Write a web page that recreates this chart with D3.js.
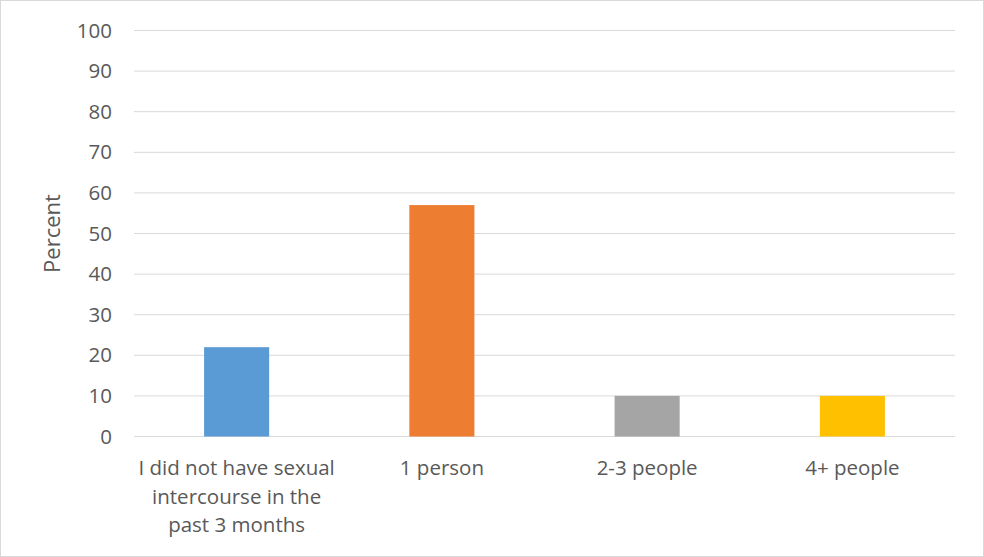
<!DOCTYPE html>
<html>
<head>
<meta charset="utf-8">
<script src="https://cdn.jsdelivr.net/npm/d3@7"></script>
<style>
  html, body { margin: 0; padding: 0; background: #fff; }
  svg { display: block; }
  text { font-family: "Open Sans", sans-serif; fill: #595959; }
</style>
</head>
<body>
<svg id="chart" width="984" height="557"></svg>
<script>
const categories = ["I did not have sexual intercourse in the past 3 months", "1 person", "2-3 people", "4+ people"];
const values = [22, 57, 10, 10];
const colors = ["#5B9BD5", "#ED7D31", "#A5A5A5", "#FFC000"];
const yTicks = [0, 10, 20, 30, 40, 50, 60, 70, 80, 90, 100];
const yLabel = "Percent";

const W = 984, H = 557;
const margin = { left: 134, right: 29, top: 30.5, bottom: 120.5 };
const svg = d3.select("#chart");

svg.append("rect")
  .attr("x", 0.5).attr("y", 0.5)
  .attr("width", W - 1).attr("height", H - 1)
  .attr("fill", "#fff").attr("stroke", "#d9d9d9");

const x = d3.scaleBand().domain(categories)
  .range([margin.left, W - margin.right])
  .paddingInner(0.683).paddingOuter(0.3415);
const y = d3.scaleLinear().domain([0, 100])
  .range([H - margin.bottom, margin.top]);

// gridlines
svg.append("g").selectAll("line").data(yTicks).join("line")
  .attr("x1", margin.left).attr("x2", W - margin.right)
  .attr("y1", d => y(d)).attr("y2", d => y(d))
  .attr("stroke", "#d9d9d9").attr("stroke-width", 1);

// y axis labels
const yAxis = d3.axisLeft(y).tickValues(yTicks).tickSize(0).tickPadding(22);
const gy = svg.append("g").attr("transform", `translate(${margin.left},0)`).call(yAxis);
gy.select(".domain").remove();
gy.selectAll("text").style("font-size", "20.5px").attr("fill", "#595959")
  .style("font-family", "'Open Sans', sans-serif");

// bars
svg.append("g").selectAll("rect").data(values).join("rect")
  .attr("x", (d, i) => x(categories[i]))
  .attr("width", x.bandwidth())
  .attr("y", d => y(d))
  .attr("height", d => y(0) - y(d))
  .attr("fill", (d, i) => colors[i]);

// x axis labels
const xAxis = d3.axisBottom(x).tickSize(0).tickPadding(24);
const gx = svg.append("g").attr("transform", `translate(0,${y(0)})`).call(xAxis);
gx.select(".domain").remove();
gx.selectAll("text").style("font-size", "20.5px").attr("fill", "#595959")
  .style("font-family", "'Open Sans', sans-serif")
  .call(wrap, 205);

function wrap(texts, width) {
  texts.each(function() {
    const text = d3.select(this);
    const words = text.text().split(/\s+/);
    const yy = text.attr("y");
    const dy = parseFloat(text.attr("dy")) || 0;
    text.text(null);
    let line = [];
    let lineNumber = 0;
    let tspan = text.append("tspan").attr("x", 0).attr("y", yy).attr("dy", dy + "em");
    for (const w of words) {
      line.push(w);
      tspan.text(line.join(" "));
      if (tspan.node().getComputedTextLength() > width && line.length > 1) {
        line.pop();
        tspan.text(line.join(" "));
        line = [w];
        lineNumber++;
        tspan = text.append("tspan").attr("x", 0).attr("y", yy)
          .attr("dy", (lineNumber * 1.4 + dy) + "em").text(w);
      }
    }
  });
}

// y axis title
svg.append("text")
  .attr("transform", `translate(60,${(y(0) + y(100)) / 2}) rotate(-90)`)
  .attr("text-anchor", "middle")
  .style("font-size", "22px")
  .text(yLabel);
</script>
</body>
</html>
